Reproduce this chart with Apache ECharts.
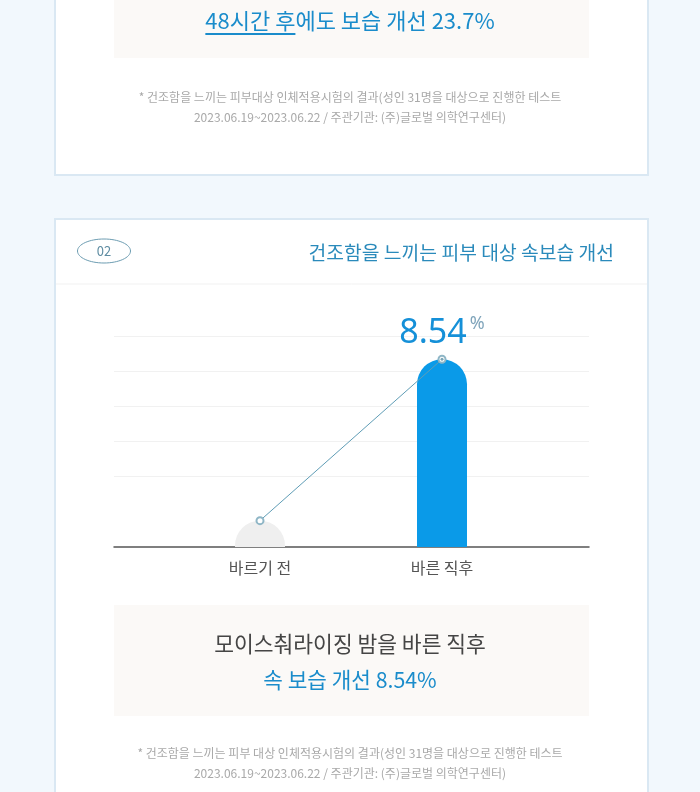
<!DOCTYPE html>
<html>
<head>
<meta charset="utf-8">
<script src="https://cdn.jsdelivr.net/npm/echarts@6/dist/echarts.min.js"></script>
<style>
  html, body { margin: 0; padding: 0; background: #f2f8fd; }
  #chart { width: 700px; height: 792px; }
</style>
</head>
<body>
<div id="chart"></div>
<script>
// ---- data ----
const categories = ['바르기 전', '바른 직후'];
const moistureValues = [1.2, 8.54];
const valueUnit = '%';
const highlightIndex = 1;

const topHeadline = '48시간 후에도 보습 개선 23.7%';
const topHeadlineUnderlined = '48시간 후';
const topNote1 = '* 건조함을 느끼는 피부대상 인체적용시험의 결과(성인 31명을 대상으로 진행한 테스트';
const topNote2 = '2023.06.19~2023.06.22 / 주관기관: (주)글로벌 의학연구센터)';
const badgeText = '02';
const cardTitle = '건조함을 느끼는 피부 대상 속보습 개선';
const summary1 = '모이스춰라이징 밤을 바른 직후';
const summary2 = '속 보습 개선 8.54%';
const note1 = '* 건조함을 느끼는 피부 대상 인체적용시험의 결과(성인 31명을 대상으로 진행한 테스트';
const note2 = '2023.06.19~2023.06.22 / 주관기관: (주)글로벌 의학연구센터)';

// ---- styles ----
const FONT = '"Noto Sans CJK KR", "Noto Sans", sans-serif';
const BLUE = '#1a8ccb';
const headFont = '22px ' + FONT;
const noteFont = '12px ' + FONT;

const ctx = document.createElement('canvas').getContext('2d');
ctx.font = headFont;
const headW = ctx.measureText(topHeadline).width;
const ulW = ctx.measureText(topHeadlineUnderlined).width;
const headX0 = 350 - headW / 2;

const chart = echarts.init(document.getElementById('chart'), null, { renderer: 'canvas' });

function txt(text, x, y, font, fill, align) {
  return { type: 'text', x: x, y: y, z: 10,
    style: { text: text, font: font, fill: fill, textAlign: align || 'center', textVerticalAlign: 'middle' } };
}

const option = {
  backgroundColor: '#f2f8fd',
  animation: false,
  graphic: [
    // card 1
    { type: 'rect', z: 0, shape: { x: 55, y: -30, width: 593, height: 205 },
      style: { fill: '#ffffff', stroke: '#dae8f3', lineWidth: 2 } },
    { type: 'rect', z: 1, shape: { x: 114, y: -10, width: 475, height: 68 },
      style: { fill: '#fbf9f7' } },
    txt(topHeadline, 350, 21, headFont, BLUE),
    { type: 'line', z: 10, shape: { x1: headX0, y1: 34, x2: headX0 + ulW, y2: 34 },
      style: { stroke: BLUE, lineWidth: 2 } },
    txt(topNote1, 350, 97, noteFont, '#a9a9a9'),
    txt(topNote2, 350, 117, noteFont, '#a9a9a9'),
    // card 2
    { type: 'rect', z: 0, shape: { x: 55, y: 219, width: 593, height: 620 },
      style: { fill: '#ffffff', stroke: '#dae8f3', lineWidth: 2 } },
    { type: 'ellipse', z: 10, shape: { cx: 104, cy: 251, rx: 26.5, ry: 12 },
      style: { fill: 'none', stroke: '#6d9db2', lineWidth: 1 } },
    txt(badgeText, 104, 251, '13px ' + FONT, '#5e8ca2'),
    txt(cardTitle, 614, 253, '19.3px ' + FONT, '#2a8abb', 'right'),
    { type: 'line', z: 1, shape: { x1: 56, y1: 284, x2: 647, y2: 284 },
      style: { stroke: '#f1f1f1', lineWidth: 1 } },
    { type: 'rect', z: 1, shape: { x: 114, y: 605, width: 475, height: 111 },
      style: { fill: '#fbf9f7' } },
    txt(summary1, 350, 644, '21.5px ' + FONT, '#454545'),
    txt(summary2, 350, 680, '21.3px ' + FONT, BLUE),
    txt(note1, 350, 753, noteFont, '#a9a9a9'),
    txt(note2, 350, 773, noteFont, '#a9a9a9')
  ],
  grid: [
    { left: 114, right: 111, top: 336, bottom: 245 },
    { left: 169, right: 167, top: 336, bottom: 245 }
  ],
  xAxis: [
    { type: 'value', gridIndex: 0, min: 0, max: 1,
      axisLine: { show: true, onZero: true, lineStyle: { color: '#555555', width: 1.5 } },
      axisTick: { show: false }, axisLabel: { show: false }, splitLine: { show: false } },
    { type: 'category', gridIndex: 1, data: categories,
      axisLine: { show: false }, axisTick: { show: false },
      axisLabel: { margin: 13, fontSize: 16, color: '#555555', fontFamily: FONT } }
  ],
  yAxis: [
    { type: 'value', gridIndex: 0, min: 0, max: 9.6, interval: 1.6,
      axisLine: { show: false }, axisTick: { show: false }, axisLabel: { show: false },
      splitLine: { show: true, lineStyle: { width: 1,
        color: ['rgba(0,0,0,0)', 'rgba(0,0,0,0)', '#f1f1f1', '#f1f1f1', '#f1f1f1', '#f1f1f1', '#f1f1f1'] } } },
    { type: 'value', gridIndex: 1, min: 0, max: 9.6, interval: 1.6, show: false,
      splitLine: { show: false } }
  ],
  series: [
    { type: 'bar', xAxisIndex: 1, yAxisIndex: 1, barWidth: 50, z: 2,
      data: moistureValues.map((v, i) => ({
        value: v,
        itemStyle: { color: i === highlightIndex ? '#0a9ae8' : '#efefef', borderRadius: [25, 25, 0, 0] },
        label: { show: i === highlightIndex }
      })),
      label: { position: 'top', distance: 8,
        formatter: (p) => '{a|' + p.value + '}{b|' + valueUnit + '}',
        rich: {
          a: { fontSize: 34, color: '#1590d8', fontFamily: '"Noto Sans", sans-serif', lineHeight: 36 },
          b: { fontSize: 18, color: '#80a5bb', fontFamily: '"Noto Sans", sans-serif', verticalAlign: 'top', padding: [0, 0, 7, 3], lineHeight: 36 }
        } } },
    { type: 'line', xAxisIndex: 1, yAxisIndex: 1, z: 5, data: moistureValues,
      symbol: 'emptyCircle', symbolSize: 7,
      lineStyle: { color: '#5f9db6', width: 1 },
      itemStyle: { color: '#8fb6c6', borderColor: '#b9c7cc', borderWidth: 1.5 } },
    { type: 'scatter', xAxisIndex: 1, yAxisIndex: 1, z: 6, symbolSize: 3,
      data: moistureValues.map((v, i) => i === highlightIndex ? v : '-'),
      itemStyle: { color: '#5a8fa3' } }
  ]
};
chart.setOption(option);
</script>
</body>
</html>
